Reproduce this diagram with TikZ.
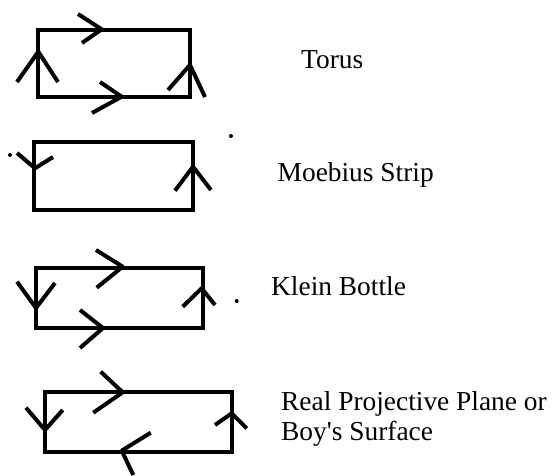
\documentclass[tikz,border=0pt]{standalone}
\usepackage{fontspec}
\setmainfont{Liberation Serif}
\newfontfamily\lbfont{Liberation Serif}
\begin{document}
\begin{tikzpicture}[x=1pt,y=-1pt,
  edge/.style={line width=4pt},
  chev/.style={line width=4pt, line cap=butt, line join=round},
  dotmark/.style={fill=black},
  lbl/.style={anchor=base west, inner sep=0pt, font=\lbfont\fontsize{27.4}{30}\selectfont}]
\useasboundingbox (0,0) rectangle (552,476);
% Torus
\draw[edge] (37.7,30) rectangle (190,96.7);
\draw[chev] (78,14) -- (101.7,29.3) -- (82,43);
\draw[chev] (100,82) -- (121.7,96.7) -- (92,113);
\draw[chev] (17,82) -- (38.3,51.7) -- (58,82);
\draw[chev] (168,90) -- (190,65) -- (205,97);
\node[lbl] (torus) at (301,68.3) {Torus};
% Moebius
\draw[edge] (34,141.7) rectangle (193.3,210);
\draw[chev] (17,153) -- (35,168.3) -- (53,157);
\draw[chev] (175,190.7) -- (193,166.7) -- (211,190);
\fill[dotmark] (10,155) circle (2);
\fill[dotmark] (231,136) circle (2);
\node[lbl] (moebius) at (277.5,181.7) {Moebius Strip};
% Klein
\draw[edge] (36,268.3) rectangle (202.7,328.3);
\draw[chev] (96,250) -- (122.7,266.7) -- (96.7,287.7);
\draw[chev] (80,310) -- (103,328) -- (80,348);
\draw[chev] (17,281.7) -- (36,308) -- (55,283);
\draw[chev] (182.7,306.7) -- (201.7,288.3) -- (215,305);
\fill[dotmark] (236.7,301) circle (2);
\node[lbl] (klein) at (271,295) {Klein Bottle};
% Real projective plane
\draw[edge] (45,392.3) rectangle (231.7,451.7);
\draw[chev] (100.7,371.7) -- (122.7,392.3) -- (93.3,412.7);
\draw[chev] (150.7,432.7) -- (121.7,450.7) -- (133.3,475);
\draw[chev] (26,407.7) -- (45,430) -- (62.7,410);
\draw[chev] (215,425) -- (231.7,413.3) -- (246.7,428.3);
\node[lbl] (rpp1) at (281,410) {Real Projective Plane or};
\node[lbl] (rpp2) at (281,440) {Boy's Surface};
\end{tikzpicture}
\end{document}
